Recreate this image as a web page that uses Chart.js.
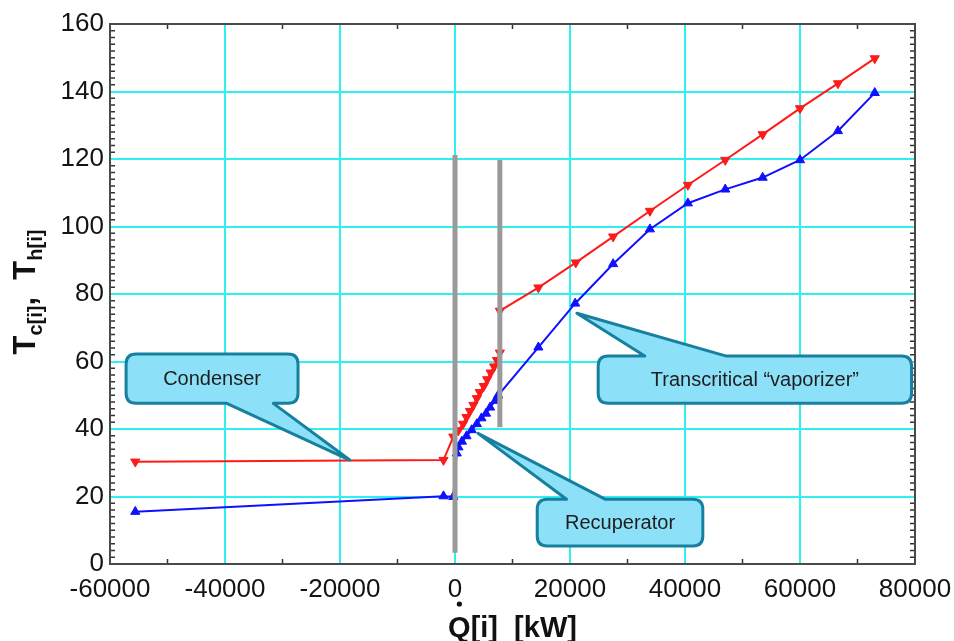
<!DOCTYPE html>
<html>
<head>
<meta charset="utf-8">
<script src="https://cdn.jsdelivr.net/npm/chart.js@4.4.0/dist/chart.umd.min.js"></script>
<style>
  html, body { margin: 0; padding: 0; background: #fff; }
  canvas { display: block; }
</style>
</head>
<body>
<canvas id="chart" width="954" height="641"></canvas>
<script>
// Hot stream T_h[i] (red, down triangles)
const hotQ = [-55600, -2000, -300, 600, 1400, 2000, 2600, 3200, 3800, 4300, 5000, 5600, 6200, 6800, 7300, 7800,
              7800, 14500, 21000, 27500, 33900, 40500, 47000, 53500, 60000, 66600, 73000];
const hotT = [30.3, 30.8, 37.7, 39.6, 41.5, 43.5, 45.3, 47.1, 49.1, 50.9, 52.7, 54.7, 56.7, 58.5, 60.4, 62.6,
              75.0, 81.9, 89.3, 97.0, 104.6, 112.3, 119.7, 127.3, 135.0, 142.4, 149.8];

// Cold stream T_c[i] (blue, up triangles)
const coldQ = [-55600, -2000, -300, 300, 600, 1200, 2000, 2900, 3800, 4600, 5400, 6100, 7000, 7500,
               14500, 20900, 27500, 33900, 40500, 47000, 53500, 60000, 66600, 73000];
const coldT = [15.5, 20.1, 19.9, 32.8, 34.6, 36.3, 37.9, 39.7, 41.5, 43.2, 44.6, 46.4, 48.4, 50.0,
               64.2, 77.2, 88.9, 99.2, 106.9, 111.0, 114.5, 119.7, 128.3, 139.6];

// Gray separators between condenser / recuperator / vaporizer
const barQ = [0, 7800];
const barLow = [3.3, 40.5];
const barHigh = [121.2, 119.7];

const xTicks = [-60000, -40000, -20000, 0, 20000, 40000, 60000, 80000];
const yTicks = [0, 20, 40, 60, 80, 100, 120, 140, 160];

// callouts in data units: box [x1, x2, yLow, yHigh], pointer base on 'top' or 'bottom', tip point
const callouts = [
  { text: 'Condenser', box: [-57200, -27300, 47.6, 62.2], side: 'bottom', base: [-39700, -31600], tip: [-18300, 30.8] },
  { text: 'Transcritical \u201Cvaporizer\u201D', box: [24900, 79400, 47.6, 61.6], side: 'top', base: [33000, 47200], tip: [21200, 74.3] },
  { text: 'Recuperator', box: [14300, 43100, 5.3, 19.2], side: 'top', base: [19400, 26100], tip: [4000, 38.7] }
];

const FONT = "'Liberation Sans', Arial, sans-serif";

function toPoints(xs, ys) {
  return xs.map((x, i) => ({ x: x, y: ys[i] }));
}

let datasets = [];
// gray bars first so they end up on top of the stream lines
barQ.forEach((q, i) => {
  datasets.push({
    data: [{ x: q, y: barLow[i] }, { x: q, y: barHigh[i] }],
    showLine: true, borderColor: '#9a9a9a', borderWidth: 5, pointRadius: 0, borderCapStyle: 'butt'
  });
});
datasets.push({
  label: 'Th', data: toPoints(hotQ, hotT), showLine: true,
  borderColor: '#ff1a1a', backgroundColor: '#ff1a1a', borderWidth: 2,
  pointStyle: 'triangle', pointRotation: 180, pointRadius: 5.3, pointBorderWidth: 1
});
datasets.push({
  label: 'Tc', data: toPoints(coldQ, coldT), showLine: true,
  borderColor: '#1010ff', backgroundColor: '#1010ff', borderWidth: 2,
  pointStyle: 'triangle', pointRadius: 5.3, pointBorderWidth: 1
});

function calloutPath(ctx, c, xs, ys) {
  const x1 = xs.getPixelForValue(c.box[0]), x2 = xs.getPixelForValue(c.box[1]);
  const yT = ys.getPixelForValue(c.box[3]), yB = ys.getPixelForValue(c.box[2]);
  const b1 = xs.getPixelForValue(c.base[0]), b2 = xs.getPixelForValue(c.base[1]);
  const tx = xs.getPixelForValue(c.tip[0]), ty = ys.getPixelForValue(c.tip[1]);
  const r = 10;
  ctx.beginPath();
  ctx.moveTo(x1 + r, yT);
  if (c.side === 'top') { ctx.lineTo(b1, yT); ctx.lineTo(tx, ty); ctx.lineTo(b2, yT); }
  ctx.lineTo(x2 - r, yT);
  ctx.quadraticCurveTo(x2, yT, x2, yT + r);
  ctx.lineTo(x2, yB - r);
  ctx.quadraticCurveTo(x2, yB, x2 - r, yB);
  if (c.side === 'bottom') { ctx.lineTo(b2, yB); ctx.lineTo(tx, ty); ctx.lineTo(b1, yB); }
  ctx.lineTo(x1 + r, yB);
  ctx.quadraticCurveTo(x1, yB, x1, yB - r);
  ctx.lineTo(x1, yT + r);
  ctx.quadraticCurveTo(x1, yT, x1 + r, yT);
  ctx.closePath();
  return [(x1 + x2) / 2, (yT + yB) / 2];
}

const decor = {
  id: 'decor',
  afterDatasetsDraw(chart) {
    const ctx = chart.ctx;
    const a = chart.chartArea;
    const xs = chart.scales.x, ys = chart.scales.y;
    ctx.save();
    // minor ticks, inside, on all four sides
    ctx.strokeStyle = '#333';
    ctx.lineWidth = 1.5;
    ctx.beginPath();
    for (let q = -50000; q < 80000; q += 20000) {
      const px = xs.getPixelForValue(q);
      ctx.moveTo(px, a.bottom); ctx.lineTo(px, a.bottom - 5);
      ctx.moveTo(px, a.top); ctx.lineTo(px, a.top + 5);
    }
    for (let t = 2; t < 160; t += 2) {
      if (t % 20 === 0) continue;
      const py = ys.getPixelForValue(t);
      ctx.moveTo(a.left, py); ctx.lineTo(a.left + 5, py);
      ctx.moveTo(a.right, py); ctx.lineTo(a.right - 5, py);
    }
    ctx.stroke();
    // frame
    ctx.strokeStyle = '#4a4a4a';
    ctx.lineWidth = 2;
    ctx.strokeRect(a.left, a.top, a.right - a.left, a.bottom - a.top);

    // callouts
    callouts.forEach(c => {
      const mid = calloutPath(ctx, c, xs, ys);
      ctx.fillStyle = '#8ce0f8';
      ctx.fill();
      ctx.strokeStyle = '#17809f';
      ctx.lineWidth = 3;
      ctx.lineJoin = 'round';
      ctx.stroke();
      ctx.fillStyle = '#1e1e1e';
      ctx.font = '20px ' + FONT;
      ctx.textAlign = 'center';
      ctx.textBaseline = 'middle';
      ctx.fillText(c.text, mid[0], mid[1] + 1);
    });
    ctx.restore();
  },
  afterDraw(chart) {
    const ctx = chart.ctx;
    const a = chart.chartArea;
    ctx.save();
    ctx.fillStyle = '#111';
    // x axis title with a dot over Q
    ctx.font = 'bold 29px ' + FONT;
    ctx.textBaseline = 'alphabetic';
    ctx.textAlign = 'left';
    const xt = 'Q[i]  [kW]';
    const w = ctx.measureText(xt).width;
    const cx = (a.left + a.right) / 2;
    const x0 = cx - w / 2;
    ctx.fillText(xt, x0, 637);
    const qw = ctx.measureText('Q').width;
    ctx.beginPath();
    ctx.arc(x0 + qw / 2, 604, 2.6, 0, Math.PI * 2);
    ctx.fill();

    // y axis title with subscripts, rotated
    const parts = [
      { t: 'T', sub: false }, { t: 'c[i]', sub: true }, { t: ',  ', sub: false },
      { t: 'T', sub: false }, { t: 'h[i]', sub: true }
    ];
    const big = 'bold 31px ' + FONT, small = 'bold 20px ' + FONT;
    let total = 0;
    parts.forEach(p => { ctx.font = p.sub ? small : big; p.w = ctx.measureText(p.t).width; total += p.w; });
    ctx.translate(35, (a.top + a.bottom) / 2 - 2);
    ctx.rotate(-Math.PI / 2);
    let pos = -total / 2;
    parts.forEach(p => {
      ctx.font = p.sub ? small : big;
      ctx.fillText(p.t, pos, p.sub ? 7 : 0);
      pos += p.w;
    });
    ctx.restore();
  }
};

new Chart(document.getElementById('chart'), {
  type: 'scatter',
  data: { datasets: datasets },
  options: {
    responsive: false,
    animation: false,
    layout: { padding: { top: 24, right: 39, left: 0, bottom: 0 } },
    plugins: { legend: { display: false }, tooltip: { enabled: false } },
    scales: {
      x: {
        type: 'linear', min: -60000, max: 80000,
        afterBuildTicks: s => { s.ticks = xTicks.map(v => ({ value: v })); },
        afterFit: s => { s.height = 77; s.paddingLeft = 0; s.paddingRight = 0; },
        ticks: { callback: v => String(v), color: '#141414', padding: 10, maxRotation: 0, autoSkip: false,
                 font: { family: FONT, size: 26 } },
        grid: { color: '#2ff0f0', lineWidth: 2, drawTicks: false },
        border: { display: false }
      },
      y: {
        type: 'linear', min: 0, max: 160,
        afterBuildTicks: s => { s.ticks = yTicks.map(v => ({ value: v })); },
        afterFit: s => { s.width = 110; s.paddingTop = 0; s.paddingBottom = 0; },
        ticks: { callback: v => String(v), color: '#141414', padding: 6,
                 font: { family: FONT, size: 26 } },
        grid: { color: '#2ff0f0', lineWidth: 2, drawTicks: false },
        border: { display: false }
      }
    }
  },
  plugins: [decor]
});
</script>
</body>
</html>
